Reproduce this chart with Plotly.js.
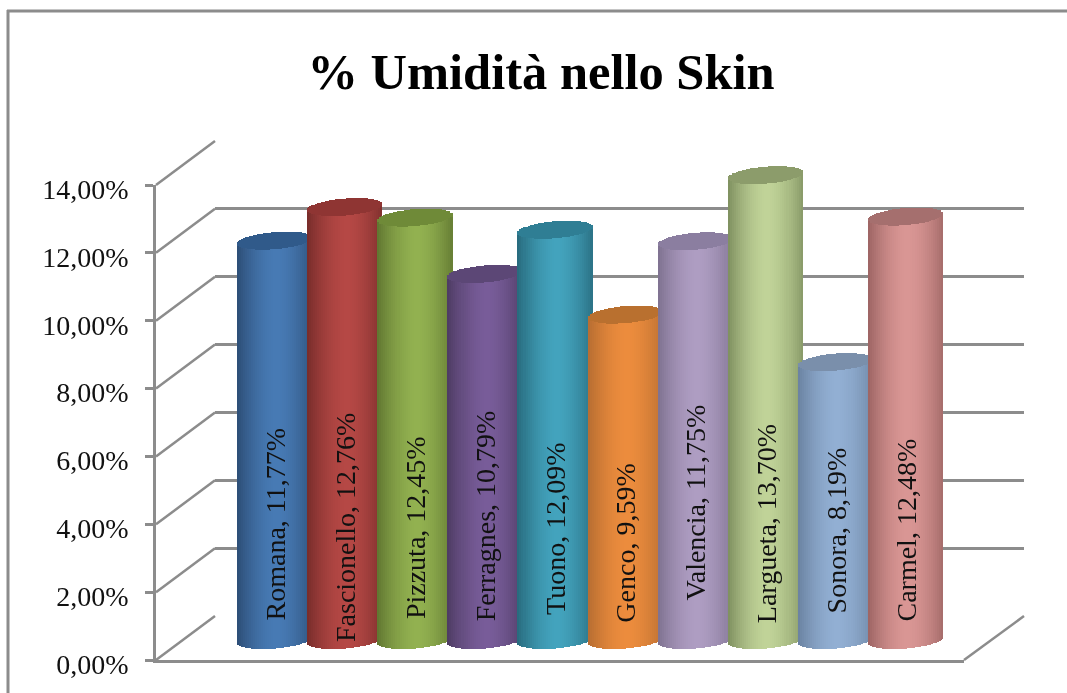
<!DOCTYPE html>
<html>
<head>
<meta charset="utf-8">
<script src="https://cdn.plot.ly/plotly-3.0.1.min.js"></script>
<style>
html,body{margin:0;padding:0;background:#fff;overflow:hidden}
#chart{width:1067px;height:693px;filter:blur(0.45px)}
</style>
</head>
<body>
<div id="chart"></div>
<script>
// ---- data ----
const categories = ["Romana","Fascionello","Pizzuta","Ferragnes","Tuono","Genco","Valencia","Largueta","Sonora","Carmel"];
const values = [11.77,12.76,12.45,10.79,12.09,9.59,11.75,13.70,8.19,12.48];
const tickValues = [0,2,4,6,8,10,12,14];
const tickLabels = ["0,00%","2,00%","4,00%","6,00%","8,00%","10,00%","12,00%","14,00%"];
const chartTitle = "% Umidità nello Skin";

// ---- styles ----
const lightColors = ["#477ab4","#b54845","#92b150","#785c99","#43a3bd","#ec8c3d","#ae9dc2","#c0d398","#92afd3","#d99694"];
const darkColors  = ["#2c4d75","#772c2a","#5f7530","#4d3b62","#276a7c","#b66d31","#7e7190","#7e8f5f","#6a82a0","#9c6463"];
const capColors   = ["#305a8a","#8f3533","#6f8a38","#5c4776","#2f7e94","#b9702f","#8b7ea0","#8c9c6b","#7a8fab","#a56f6e"];
const labelMidpoints = [3.41,3.31,3.31,3.66,3.26,2.86,4.05,3.44,3.23,3.23];

const W = 1067, H = 693, GRAY = "#8c8c8c";
const FONT = "'Liberation Serif', serif";
const pxPerUnit = 33.93, step = 70.1, firstCenter = 274.5;
const fx = p => p / W, fy = p => 1 - p / H;

function hex(c){return [1,3,5].map(i=>parseInt(c.substr(i,2),16));}
function mix(a,b,f){const A=hex(a),B=hex(b);return "rgb("+A.map((v,i)=>Math.round(v+(B[i]-v)*f)).join(",")+")";}

const halfW = 37.5/step, capE = 8.5/pxPerUnit, tilt = 3/pxPerUnit, n = 37;
const traces = [
 {type:"scatter",mode:"markers",x:[0.5],y:[7],marker:{opacity:0,size:1},xaxis:"x",yaxis:"y",hoverinfo:"skip",showlegend:false},
 {type:"scatter",mode:"markers",x:[0.5],y:[7],marker:{opacity:0,size:1},xaxis:"x2",yaxis:"y2",hoverinfo:"skip",showlegend:false},
 {type:"bar", name:"% Umidità", x:categories.map((_,i)=>i), y:values, width:2*halfW*0.97,
  marker:{color:darkColors,line:{width:0}}, xaxis:"x3", yaxis:"y3", hoverinfo:"x+y", showlegend:false}
];
categories.forEach((cat,i)=>{
  const xs=[],ys=[],bases=[],offs=[],wids=[],cols=[];
  const v=values[i];
  for(let k=0;k<n;k++){
    const u=((k+.5)/n)*2-1, s=Math.sqrt(Math.max(0,1-u*u));
    const f=1-Math.pow(Math.abs(u-0.05)/1.05,1.7);
    const left=-halfW+2*halfW*k/n, w=2*halfW/n*1.15;
    xs.push(i);bases.push(-capE*s+tilt*u);ys.push(v+capE*s);offs.push(left);wids.push(w);
    cols.push(mix(darkColors[i],lightColors[i],f));
  }
  for(let k=0;k<n;k++){
    const u=((k+.5)/n)*2-1, s=Math.sqrt(Math.max(0,1-u*u));
    const left=-halfW+2*halfW*k/n, w=2*halfW/n*1.15;
    xs.push(i);bases.push(v+tilt*u-capE*s);ys.push(2*capE*s);offs.push(left);wids.push(w);
    cols.push(capColors[i]);
  }
  traces.push({type:"bar",name:cat,x:xs,y:ys,base:bases,offset:offs,width:wids,
    marker:{color:cols,line:{width:0}},xaxis:"x3",yaxis:"y3",hoverinfo:"skip",showlegend:false});
});

const shapes=[];
function seg(x0,y0,x1,y1,w){shapes.push({type:"line",layer:"below",xref:"paper",yref:"paper",
  x0:fx(x0),y0:fy(y0),x1:fx(x1),y1:fy(y1),line:{color:GRAY,width:w}});}
seg(8,10,8,693,3); seg(7,11,1067,11,3);
tickValues.forEach(v=>seg(156,660-pxPerUnit*v,215,616-pxPerUnit*v,2.5));
seg(964,660,1024,616,2.5);

const annotations = categories.map((c,i)=>({
  xref:"x3",yref:"y3",x:i+0.01,y:labelMidpoints[i],textangle:-90,showarrow:false,
  text:c+", "+values[i].toFixed(2).replace(".",",")+"%",
  font:{family:FONT,size:28,color:"#111"}
}));

const layout={
  width:W,height:H,margin:{l:0,r:0,t:0,b:0},paper_bgcolor:"#fff",plot_bgcolor:"rgba(0,0,0,0)",
  showlegend:false,barmode:"overlay",bargap:0,
  title:{text:"<b>"+chartTitle+"</b>",font:{family:FONT,size:50.5,color:"#000"},
    x:541/W,xanchor:"center",xref:"paper",y:1-71/H,yanchor:"middle",yref:"paper"},
  // front plane: value axis with tick labels and floor edge
  xaxis:{domain:[fx(156),fx(964)],range:[0,1],anchor:"y",showgrid:false,zeroline:false,showticklabels:false,
    ticks:"",showline:true,linecolor:GRAY,linewidth:2.5},
  yaxis:{domain:[fy(660),fy(185)],range:[0,14],anchor:"x",tickvals:tickValues,ticktext:tickLabels,
    ticks:"outside",ticklen:8,tickwidth:2.5,tickcolor:GRAY,showgrid:false,zeroline:false,
    showline:true,linecolor:GRAY,linewidth:2.5,ticklabelstandoff:11,ticklabelshift:4,
    tickfont:{family:FONT,size:28,color:"#111"}},
  // back wall
  xaxis2:{domain:[fx(215),fx(1024)],range:[0,1],anchor:"y2",showgrid:false,zeroline:false,showticklabels:false,ticks:""},
  yaxis2:{domain:[fy(616),fy(141)],range:[0,14],anchor:"x2",tickvals:tickValues,showgrid:true,gridcolor:GRAY,gridwidth:2.5,
    zeroline:false,showticklabels:false,ticks:""},
  // cylinders
  xaxis3:{domain:[fx(156),fx(1024)],range:[(156-firstCenter)/step,(1024-firstCenter)/step],anchor:"y3",
    showgrid:false,zeroline:false,showticklabels:false,ticks:""},
  yaxis3:{domain:[fy(660),fy(100)],range:[(640-660)/pxPerUnit,(640-100)/pxPerUnit],anchor:"x3",
    showgrid:false,zeroline:false,showticklabels:false,ticks:""},
  shapes,annotations
};
Plotly.newPlot("chart",traces,layout,{displayModeBar:false,responsive:false});
</script>
</body>
</html>
